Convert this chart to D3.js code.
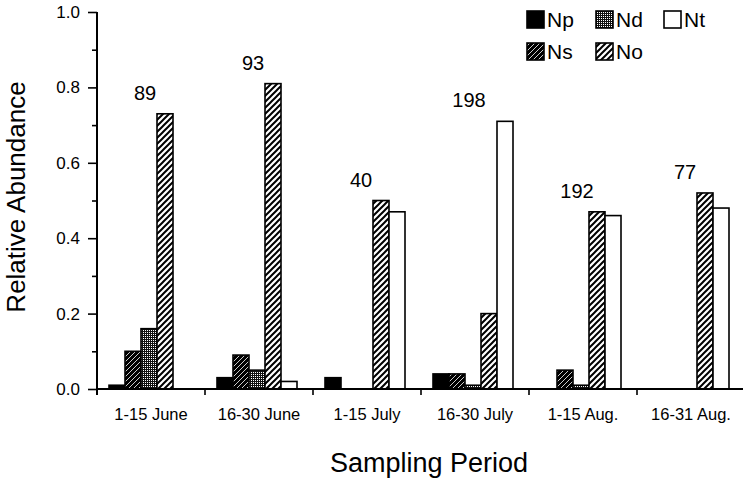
<!DOCTYPE html>
<html>
<head>
<meta charset="utf-8">
<script src="https://cdn.jsdelivr.net/npm/d3@7"></script>
<style>
  html, body { margin: 0; padding: 0; background: #fff; }
  svg { display: block; font-family: "Liberation Sans", Arial, Helvetica, sans-serif; }
</style>
</head>
<body>
<svg id="chart" width="743" height="480"></svg>
<script>
const categories = ["1-15 June", "16-30 June", "1-15 July", "16-30 July", "1-15 Aug.", "16-31 Aug."];
const seriesNames = ["Np", "Ns", "Nd", "No", "Nt"];
const Np = [0.01, 0.03, 0.03, 0.04, 0.00, 0.00];
const Ns = [0.10, 0.09, 0.00, 0.04, 0.05, 0.00];
const Nd = [0.16, 0.05, 0.00, 0.01, 0.01, 0.00];
const No = [0.73, 0.81, 0.50, 0.20, 0.47, 0.52];
const Nt = [0.00, 0.02, 0.47, 0.71, 0.46, 0.48];
const sampleSizes = [89, 93, 40, 198, 192, 77];
const majorTicks = [0, 0.2, 0.4, 0.6, 0.8, 1.0];
const minorTicks = [0.1, 0.3, 0.5, 0.7, 0.9];
const legendRows = [["Np", "Nd", "Nt"], ["Ns", "No"]];

const values = { Np, Ns, Nd, No, Nt };

const svg = d3.select("#chart");
const defs = svg.append("defs");

// Ns: black with fine white diagonals
const pNs = defs.append("pattern").attr("id", "pNs").attr("patternUnits", "userSpaceOnUse")
  .attr("width", 5).attr("height", 5);
pNs.append("rect").attr("width", 5).attr("height", 5).attr("fill", "#000");
pNs.append("path").attr("d", "M-1,6 L6,-1 M-1,1 L1,-1 M4,6 L6,4").attr("stroke", "#fff").attr("stroke-width", 0.8);

// Nd: dark stipple with white dots
const pNd = defs.append("pattern").attr("id", "pNd").attr("patternUnits", "userSpaceOnUse")
  .attr("width", 2).attr("height", 2);
pNd.append("rect").attr("width", 2).attr("height", 2).attr("fill", "#111");
pNd.append("rect").attr("width", 1).attr("height", 1).attr("fill", "#fff");

// No: white with black diagonals
const pNo = defs.append("pattern").attr("id", "pNo").attr("patternUnits", "userSpaceOnUse")
  .attr("width", 6).attr("height", 6);
pNo.append("rect").attr("width", 6).attr("height", 6).attr("fill", "#fff");
pNo.append("path").attr("d", "M-1,7 L7,-1 M-1,1 L1,-1 M5,7 L7,5").attr("stroke", "#000").attr("stroke-width", 2);

const fills = { Np: "#000", Ns: "url(#pNs)", Nd: "url(#pNd)", No: "url(#pNo)", Nt: "#fff" };

const y = d3.scaleLinear().domain([0, 1]).range([389, 12]);
const x0 = d3.scaleBand().domain(categories).range([97, 745]).padding(0);
const x1 = d3.scaleBand().domain(seriesNames).range([12, 92]).padding(0);

// bars
const groups = svg.append("g").selectAll("g").data(categories).join("g")
  .attr("transform", d => `translate(${x0(d)},0)`);

groups.selectAll("rect")
  .data((c, i) => seriesNames.map(s => ({ s, v: values[s][i] })).filter(d => d.v > 0))
  .join("rect")
  .attr("x", d => x1(d.s))
  .attr("width", x1.bandwidth())
  .attr("y", d => y(d.v))
  .attr("height", d => y(0) - y(d.v))
  .attr("fill", d => fills[d.s])
  .attr("stroke", "#000")
  .attr("stroke-width", 1.6);

// sample size labels
groups.append("text")
  .attr("x", x1("Nd") + x1.bandwidth() / 2 - 4)
  .attr("y", (c, i) => y(d3.max(seriesNames, s => values[s][i])) - 14)
  .attr("text-anchor", "middle")
  .attr("font-size", 20)
  .text((c, i) => sampleSizes[i]);

// y axis
const yAxis = svg.append("g").attr("transform", "translate(97,0)")
  .call(d3.axisLeft(y).tickValues(majorTicks).tickFormat(d3.format(".1f")).tickSize(9).tickPadding(8).tickSizeOuter(0));
yAxis.select(".domain").remove();
yAxis.selectAll("line").attr("stroke", "#000").attr("stroke-width", 1.6);
yAxis.selectAll("text").attr("font-size", 17).attr("font-family", "'Liberation Sans', Arial, sans-serif").attr("fill", "#000");
const yMinor = svg.append("g").attr("transform", "translate(97,0)")
  .call(d3.axisLeft(y).tickValues(minorTicks).tickFormat("").tickSize(5).tickSizeOuter(0));
yMinor.select(".domain").remove();
yMinor.selectAll("line").attr("stroke", "#000").attr("stroke-width", 1.6);
svg.append("line").attr("x1", 97).attr("x2", 97).attr("y1", y(1)).attr("y2", y(0) + 6)
  .attr("stroke", "#000").attr("stroke-width", 2);

// x axis
const xAxis = svg.append("g").attr("transform", `translate(0,${y(0)})`)
  .call(d3.axisBottom(x0).tickSize(0).tickPadding(0).tickSizeOuter(0));
xAxis.select(".domain").remove();
xAxis.selectAll("text").attr("y", 31).attr("dy", 0).attr("font-size", 16.5)
  .attr("font-family", "'Liberation Sans', Arial, sans-serif").attr("fill", "#000");
svg.append("line").attr("x1", 97).attr("x2", 743).attr("y1", y(0)).attr("y2", y(0))
  .attr("stroke", "#000").attr("stroke-width", 2);
svg.append("g").selectAll("line").data(categories.slice(1)).join("line")
  .attr("x1", d => x0(d)).attr("x2", d => x0(d))
  .attr("y1", y(0)).attr("y2", y(0) + 6)
  .attr("stroke", "#000").attr("stroke-width", 1.6);

// axis titles
svg.append("text").attr("x", 429).attr("y", 472).attr("text-anchor", "middle")
  .attr("font-size", 27).text("Sampling Period");
svg.append("text").attr("transform", "translate(25,197) rotate(-90)").attr("text-anchor", "middle")
  .attr("font-size", 26).text("Relative Abundance");

// legend
const legendX = [526, 595, 663];
const legendY = [10, 42];
legendRows.forEach((row, r) => {
  row.forEach((s, c) => {
    const g = svg.append("g").attr("transform", `translate(${legendX[c]},${legendY[r]})`);
    g.append("rect").attr("x", 1).attr("y", 1).attr("width", 17).attr("height", 17)
      .attr("fill", fills[s]).attr("stroke", "#000").attr("stroke-width", 1.6);
    g.append("text").attr("x", 21).attr("y", 17).attr("font-size", 21).text(s);
  });
});
</script>
</body>
</html>
